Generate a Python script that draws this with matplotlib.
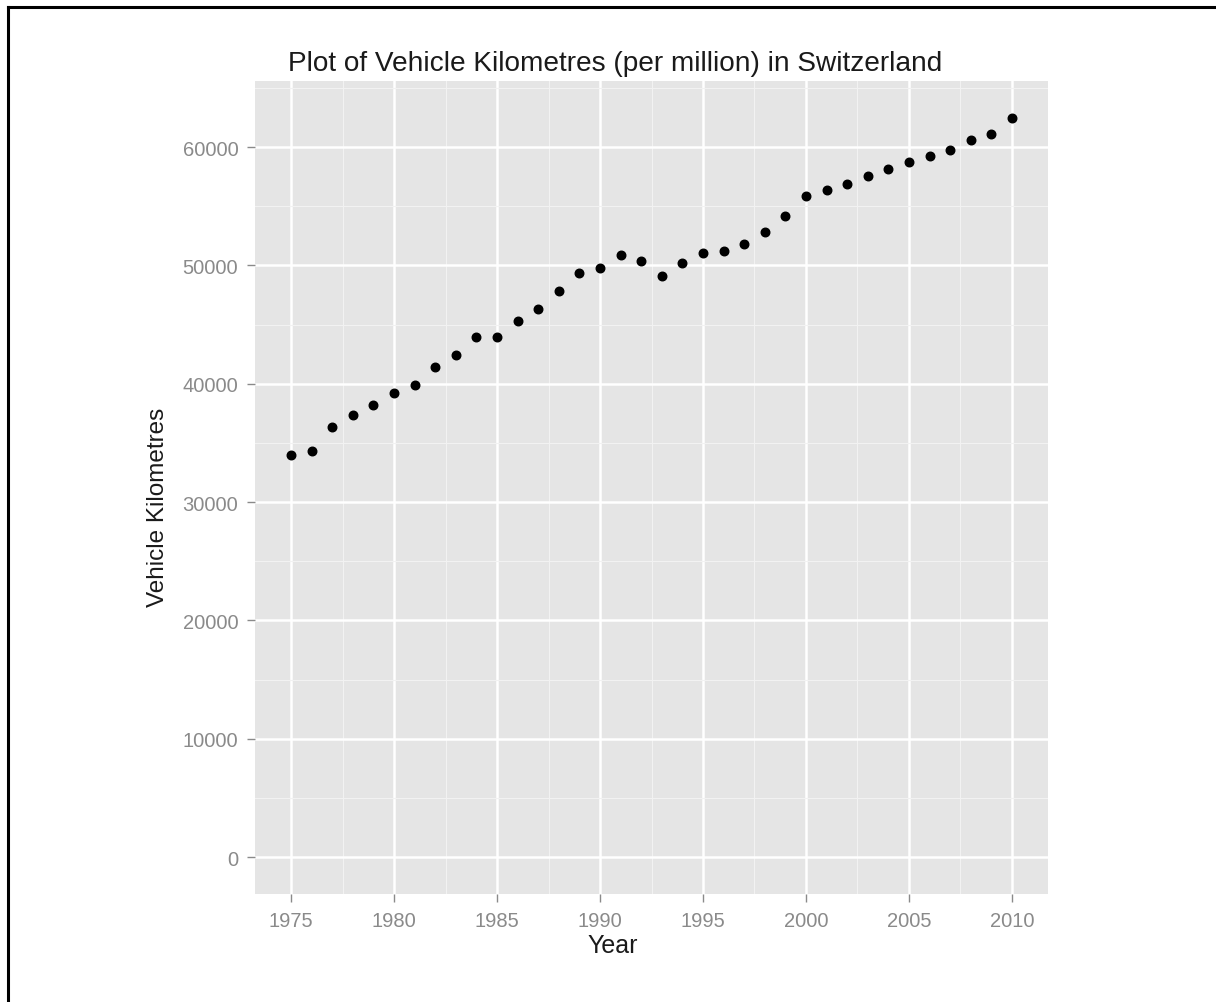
import matplotlib
matplotlib.use("Agg")
import matplotlib.pyplot as plt
from matplotlib.lines import Line2D
from matplotlib.ticker import MultipleLocator

plt.rcParams['font.family'] = ['Liberation Sans', 'DejaVu Sans']

years = list(range(1975, 2011))
vehicle_km = [34000, 34300, 36340, 37370, 38200, 39220, 39900, 41390, 42420, 43940,
              43940, 45290, 46300, 47810, 49330, 49800, 50840, 50340, 49130, 50170,
              51040, 51180, 51850, 52830, 54210, 55890, 56400, 56900, 57550, 58110,
              58750, 59260, 59760, 60600, 61110, 62460]

x_ticks = [1975, 1980, 1985, 1990, 1995, 2000, 2005, 2010]
y_ticks = [0, 10000, 20000, 30000, 40000, 50000, 60000]

W, H = 1216, 1003
fig = plt.figure(figsize=(W / 100, H / 100), dpi=100)
ax = fig.add_axes([255 / W, 1 - 895 / H, (1048 - 255) / W, (895 - 82) / H])

ax.set_facecolor('#E5E5E5')
ax.scatter(years, vehicle_km, s=38, color='black', zorder=3)

# ggplot-style expansion, 0 included on y
x_pad = (max(years) - min(years)) * 0.05
ax.set_xlim(min(years) - x_pad, max(years) + x_pad)
y_top = max(vehicle_km)
ax.set_ylim(-0.05 * y_top, 1.05 * y_top)

ax.set_xticks(x_ticks)
ax.set_yticks(y_ticks)
ax.xaxis.set_minor_locator(MultipleLocator(2.5))
ax.yaxis.set_minor_locator(MultipleLocator(5000))
ax.grid(which='major', color='white', linewidth=1.8)
ax.grid(which='minor', color='#F2F2F2', linewidth=0.8)
ax.set_axisbelow(True)
for s in ax.spines.values():
    s.set_visible(False)

ax.tick_params(which='major', length=6, width=1, color='#8A8A8A',
               labelcolor='#8A8A8A', labelsize=14.5, pad=6)
ax.tick_params(which='minor', length=0)

# titles placed as in the original (centred on the figure, not the panel)
fig.text(613 / W, 1 - 946 / H, 'Year', fontsize=18, color='#1A1A1A',
         ha='center', va='center')
fig.text(158 / W, 1 - 507 / H, 'Vehicle Kilometres', fontsize=17.5, color='#1A1A1A',
         ha='center', va='center', rotation=90)
fig.text(615 / W, 1 - 64 / H, 'Plot of Vehicle Kilometres (per million) in Switzerland',
         fontsize=20.2, color='#1A1A1A', ha='center', va='center')

# outer frame (top and left edges only)
fig.add_artist(Line2D([7.5 / W, 1], [1 - 7.5 / H] * 2, transform=fig.transFigure,
                      color='black', linewidth=2.2))
fig.add_artist(Line2D([7.5 / W] * 2, [0, 1 - 7.5 / H], transform=fig.transFigure,
                      color='black', linewidth=2.2))

fig.savefig('out.png', dpi=100, facecolor='white')
